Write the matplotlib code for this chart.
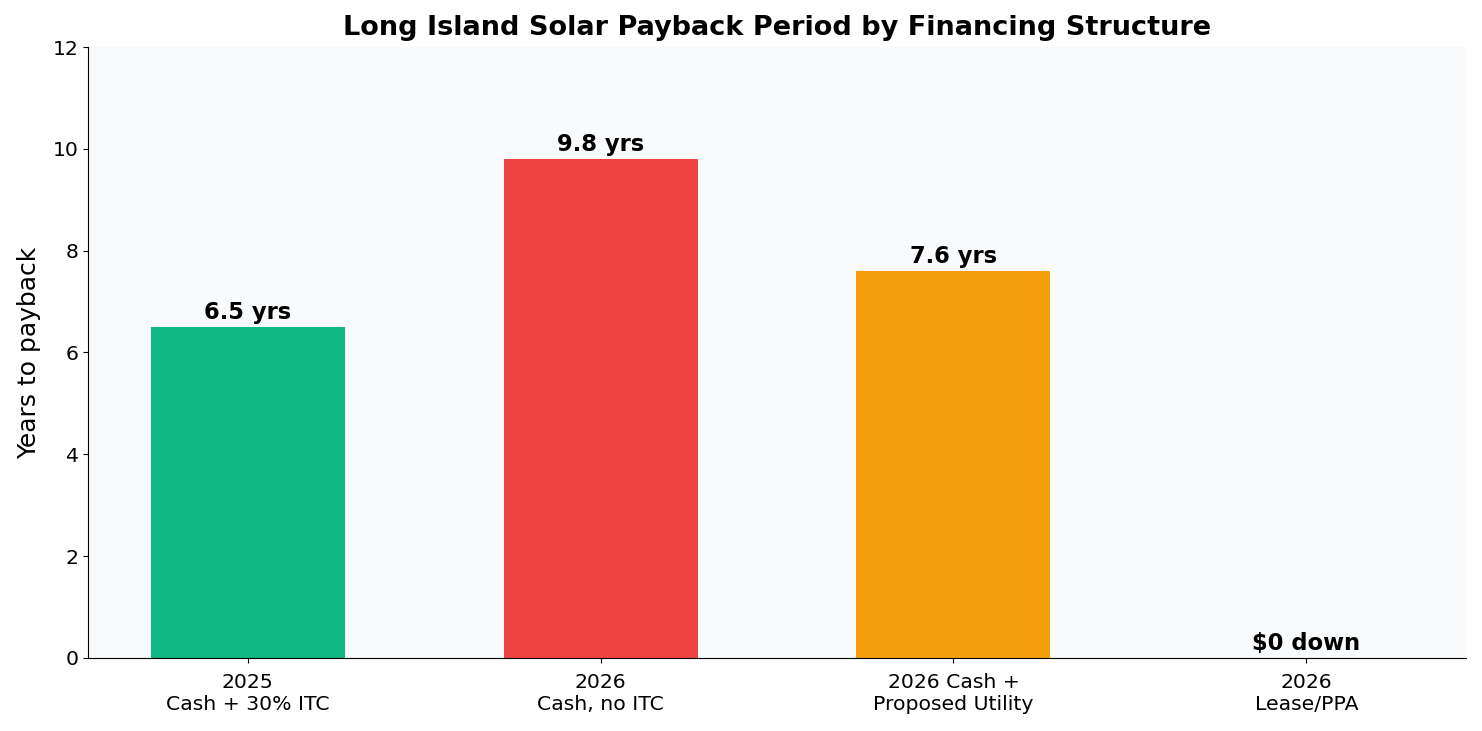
import matplotlib
matplotlib.use("Agg")
import matplotlib.pyplot as plt

categories = ["2025\nCash + 30% ITC", "2026\nCash, no ITC", "2026 Cash +\nProposed Utility", "2026\nLease/PPA"]
values = [6.5, 9.8, 7.6, 0.0]
labels = ["6.5 yrs", "9.8 yrs", "7.6 yrs", "$0 down"]
colors = ["#10b981", "#ef4444", "#f59e0b", "#94a3b8"]

fig = plt.figure(figsize=(14.82, 7.31), dpi=100)
ax = fig.add_axes([0.0594, 0.0999, 0.9298, 0.8358])
ax.set_facecolor("#f8fafc")
x = list(range(len(categories)))
bars = ax.bar(x, values, width=0.55, color=colors)
for xi, v, lab in zip(x, values, labels):
    ax.text(xi, v + 0.06, lab, ha="center", va="bottom", fontsize=16.3, fontweight="bold")
ax.set_xticks(x)
ax.set_xticklabels(categories, fontsize=14.7)
ax.tick_params(axis="x", pad=7)
ax.set_ylim(0, 12)
ax.set_yticks([0, 2, 4, 6, 8, 10, 12])
ax.tick_params(axis="y", labelsize=14.7)
ax.set_ylabel("Years to payback", fontsize=18, labelpad=8)
ax.set_title("Long Island Solar Payback Period by Financing Structure", fontsize=19.5, fontweight="bold", pad=9)
ax.spines["top"].set_visible(False)
ax.spines["right"].set_visible(False)
fig.savefig("out.png", dpi=100)
